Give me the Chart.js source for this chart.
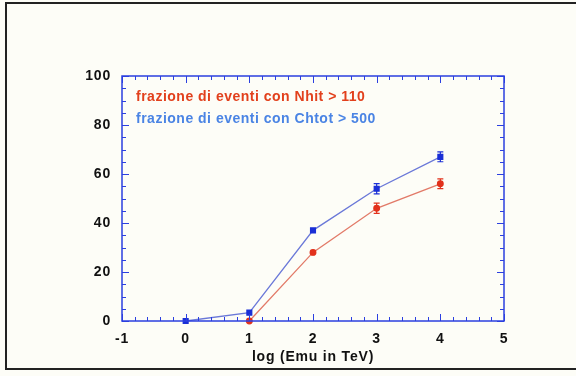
<!DOCTYPE html>
<html>
<head>
<meta charset="utf-8">
<script src="https://cdn.jsdelivr.net/npm/chart.js@4.4.1/dist/chart.umd.min.js"></script>
<style>
  html, body { margin: 0; padding: 0; background: #fdfdf7; }
  #wrap { position: relative; width: 576px; height: 376px; }
  #frame { position: absolute; left: 5px; top: 2px; width: 600px; height: 368px; border: 2px solid #222; box-sizing: border-box; }
</style>
</head>
<body>
<div id="wrap">
  <div id="frame"></div>
  <canvas id="chart" width="576" height="376"></canvas>
</div>
<script>
// log10 of muon energy (TeV)
const nhitX = [1, 2, 3, 4];
const nhitPct = [0, 28, 46, 56];
const nhitErr = [0, 0.6, 2.1, 2.0];

const chtotX = [0, 1, 2, 3, 4];
const chtotPct = [0, 3.4, 37, 54, 67];
const chtotErr = [0, 0.5, 0.6, 2.1, 2.0];

const legendLines = ['frazione di eventi con Nhit > 110', 'frazione di eventi con Chtot > 500'];
const xLabel = 'log (Emu in TeV)';

const colors = {
    red: '#e2321c',
    redLine: '#e27a68',
    blue: '#1a2fd6',
    blueLine: '#6a78d8',
    redText: '#e2401c',
    blueText: '#4a84e4',
    axis: '#2b3fe0'
};
const tickFont = { family: 'Liberation Sans, Arial', size: 14, weight: 'bold' };

function pts(xs, ys, es) {
    return xs.map((x, i) => ({ x: x, y: ys[i], e: es[i] }));
}

// wider letter spacing, like the original Mac rendering
const spacing = {
    id: 'spacing',
    beforeLayout(chart) { chart.ctx.letterSpacing = '0.8px'; },
    beforeDraw(chart) { chart.ctx.letterSpacing = '0.8px'; }
};

// inward ticks on all four sides, plus error bars and the legend text
const decor = {
    id: 'decor',
    afterDraw(chart) {
        const ctx = chart.ctx;
        const a = chart.chartArea;
        const xs = chart.scales.x, ys = chart.scales.y;
        ctx.save();
        ctx.strokeStyle = colors.axis;
        ctx.lineWidth = 1.5;
        ctx.strokeRect(a.left, a.top, a.right - a.left, a.bottom - a.top);
        ctx.lineWidth = 1;
        for (let v = -1; v <= 5.001; v += 0.2) {
            const px = Math.round(xs.getPixelForValue(v)) + 0.5;
            const major = Math.abs(v - Math.round(v)) < 0.01;
            const len = major ? 7 : 4;
            ctx.beginPath();
            ctx.moveTo(px, a.bottom); ctx.lineTo(px, a.bottom - len);
            ctx.moveTo(px, a.top); ctx.lineTo(px, a.top + len);
            ctx.stroke();
        }
        for (let v = 0; v <= 100; v += 5) {
            const py = Math.round(ys.getPixelForValue(v)) + 0.5;
            const len = v % 20 === 0 ? 7 : 4;
            ctx.beginPath();
            ctx.moveTo(a.left, py); ctx.lineTo(a.left + len, py);
            ctx.moveTo(a.right, py); ctx.lineTo(a.right - len, py);
            ctx.stroke();
        }
        chart.data.datasets.forEach(ds => {
            ctx.strokeStyle = ds.pointBackgroundColor;
            ctx.lineWidth = 1.2;
            ds.data.forEach(p => {
                if (p.e < 1) return;
                const px = xs.getPixelForValue(p.x);
                const y1 = ys.getPixelForValue(p.y + p.e);
                const y2 = ys.getPixelForValue(p.y - p.e);
                ctx.beginPath();
                ctx.moveTo(px, y1); ctx.lineTo(px, y2);
                ctx.moveTo(px - 3, y1); ctx.lineTo(px + 3, y1);
                ctx.moveTo(px - 3, y2); ctx.lineTo(px + 3, y2);
                ctx.stroke();
            });
        });
        ctx.font = 'bold 14px "Liberation Sans", Arial';
        ctx.letterSpacing = '0.5px';
        ctx.textBaseline = 'middle';
        ctx.fillStyle = colors.redText;
        ctx.fillText(legendLines[0], a.left + 14, a.top + 21);
        ctx.fillStyle = colors.blueText;
        ctx.fillText(legendLines[1], a.left + 14, a.top + 43);
        ctx.restore();
    }
};

new Chart(document.getElementById('chart'), {
    type: 'line',
    data: {
        datasets: [{
            label: 'Nhit > 110',
            data: pts(nhitX, nhitPct, nhitErr),
            borderColor: colors.redLine,
            borderWidth: 1.3,
            pointBackgroundColor: colors.red,
            pointBorderColor: colors.red,
            pointStyle: 'circle',
            pointRadius: 2.8,
            clip: false
        }, {
            label: 'Chtot > 500',
            data: pts(chtotX, chtotPct, chtotErr),
            borderColor: colors.blueLine,
            borderWidth: 1.3,
            pointBackgroundColor: colors.blue,
            pointBorderColor: colors.blue,
            pointStyle: 'rect',
            pointRadius: 3.4,
            clip: false
        }]
    },
    options: {
        responsive: false,
        animation: false,
        layout: { padding: { top: 76, right: 72, left: 0, bottom: 10 } },
        plugins: { legend: { display: false }, tooltip: { enabled: false } },
        scales: {
            x: {
                type: 'linear',
                min: -1,
                max: 5,
                grid: { display: false },
                border: { display: false },
                ticks: { stepSize: 1, color: '#111', font: tickFont, padding: 2 },
                title: { display: true, text: xLabel, color: '#111', font: tickFont, padding: 0 },
                afterFit(s) { s.height = 45; }
            },
            y: {
                min: 0,
                max: 100,
                grid: { display: false },
                border: { display: false },
                ticks: { stepSize: 20, color: '#111', font: tickFont, padding: 3 },
                afterFit(s) { s.width = 122; }
            }
        }
    },
    plugins: [spacing, decor]
});
</script>
</body>
</html>
